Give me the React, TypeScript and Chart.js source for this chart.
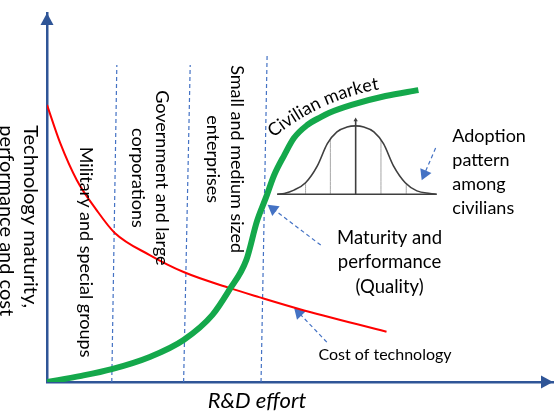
import { useEffect, useRef } from "react";
import { Chart, registerables } from "chart.js";

Chart.register(...registerables);

// both axes run 0..100 (R&D effort vs level)
const maturityX = [0, 6.5, 12.8, 20.3, 27.0, 32.7, 36.0, 39.4, 41.5, 43.3, 44.9, 46.9, 48.8, 51.4, 54.1, 55.7, 60.2, 66.9, 73.4];
const maturityY = [0, 1.6, 3.5, 6.8, 11.4, 18.2, 24.9, 33.1, 43.6, 50.1, 56.1, 61.5, 66.1, 69.6, 71.8, 72.9, 75.1, 77.5, 79.1];

const costX = [0, 2.6, 5.9, 9.8, 13.4, 20.3, 27.0, 36.0, 41.9, 49.8, 67.1];
const costY = [75.1, 64.8, 54.7, 46.6, 40.4, 34.4, 29.8, 25.5, 23.0, 19.8, 13.6];

// phase boundaries (dashed, slightly slanted)
const boundaryBottomX = [12.8, 27.0, 42.3];
const boundaryTopX = [13.8, 28.3, 43.5];
const boundaryTopY = [85.9, 85.9, 88.6];

const phaseLabels = [
  ["Military and special groups"],
  ["Government and large", "corporations"],
  ["Small and medium sized", "enterprises"],
];

// adoption bell curve inset
const bellX = [45.5, 46.9, 48.8, 51.1, 53.4, 55.4, 57.3, 59.3, 61.0, 62.6, 64.6, 66.5, 68.5, 70.8, 73.1, 75.7, 77.0];
const bellY = [50.9, 51.1, 52.0, 54.0, 58.5, 64.6, 67.8, 69.1, 69.4, 69.1, 67.8, 64.6, 58.5, 54.0, 51.8, 51.1, 50.9];
const bellBase = 50.9;
const bellTickX = [51.1, 56.0, 61.0, 66.0, 71.0];
const bellTickTop = [54.0, 65.6, 71.0, 65.6, 53.8];

// annotation arrows: tail -> head
const arrowTailX = [76.8, 54.1, 55.3];
const arrowTailY = [63.4, 37.1, 10.8];
const arrowHeadX = [74.6, 44.7, 49.8];
const arrowHeadY = [56.4, 46.9, 18.7];

const yTitleLines = ["Technology maturity,", "performance and cost"];
const xTitle = "R&D effort";
const curveLabel = "Civilian market";
const adoptionNote = ["Adoption", "pattern", "among", "civilians"];
const maturityNote = ["Maturity and", "performance", "(Quality)"];
const costNote = "Cost of technology";

const FONT = "Lato, 'Noto Sans', sans-serif";
const AXIS_BLUE = "#2F5597";
const DASH_BLUE = "#4472C4";
const GREEN = "#14A84B";
const RED = "#FF0000";

const pts = (xs: number[], ys: number[]) => xs.map((v, i) => ({ x: v, y: ys[i] }));

const drawBlock = (
  ctx: CanvasRenderingContext2D,
  lines: string[],
  cx: number,
  cy: number,
  angle: number,
  font: string,
  lh: number,
  align: CanvasTextAlign,
) => {
  ctx.save();
  ctx.translate(cx, cy);
  ctx.rotate(angle);
  ctx.font = font;
  ctx.textAlign = align;
  ctx.textBaseline = "middle";
  lines.forEach((line, i) => {
    ctx.fillText(line, 0, (i - (lines.length - 1) / 2) * lh);
  });
  ctx.restore();
};

// text bent along an arc, (mx, my) = middle of the baseline
const drawArcText = (
  ctx: CanvasRenderingContext2D,
  text: string,
  mx: number,
  my: number,
  tangent: number,
  radius: number,
  font: string,
) => {
  ctx.save();
  ctx.font = font;
  ctx.textAlign = "center";
  ctx.textBaseline = "alphabetic";
  const ox = mx - radius * Math.sin(tangent);
  const oy = my + radius * Math.cos(tangent);
  const mid = tangent - Math.PI / 2;
  const widths = [...text].map((c) => ctx.measureText(c).width);
  let s = -widths.reduce((a, b) => a + b, 0) / 2;
  [...text].forEach((c, i) => {
    const phi = mid + (s + widths[i] / 2) / radius;
    ctx.save();
    ctx.translate(ox + radius * Math.cos(phi), oy + radius * Math.sin(phi));
    ctx.rotate(phi + Math.PI / 2);
    ctx.fillText(c, 0, 0);
    ctx.restore();
    s += widths[i];
  });
  ctx.restore();
};

const labelPlugin = {
  id: "diagramLabels",
  afterDraw(chart: Chart) {
    const { ctx, chartArea } = chart;
    const sx = chart.scales.x;
    const sy = chart.scales.y;
    const px = (v: number) => sx.getPixelForValue(v);
    const py = (v: number) => sy.getPixelForValue(v);

    ctx.save();
    // axis arrowheads
    ctx.fillStyle = AXIS_BLUE;
    ctx.beginPath();
    ctx.moveTo(chartArea.left, chartArea.top);
    ctx.lineTo(chartArea.left - 6.5, chartArea.top + 12);
    ctx.lineTo(chartArea.left + 6.5, chartArea.top + 12);
    ctx.closePath();
    ctx.fill();
    ctx.beginPath();
    ctx.moveTo(chartArea.right, chartArea.bottom);
    ctx.lineTo(chartArea.right - 12, chartArea.bottom - 6.5);
    ctx.lineTo(chartArea.right - 12, chartArea.bottom + 6.5);
    ctx.closePath();
    ctx.fill();

    ctx.fillStyle = "#000";
    const half = Math.PI / 2;
    drawBlock(ctx, yTitleLines, px(-5.7), py(69.6), half, `20px ${FONT}`, 24, "left");
    drawBlock(ctx, [xTitle], px(41.5), py(-5.1), 0, `italic 22px ${FONT}`, 24, "center");

    const phaseX = [7.7, 20.3, 35.2];
    const phaseY = [35.2, 55.3, 60.4];
    phaseLabels.forEach((lines, i) => {
      drawBlock(ctx, lines, px(phaseX[i]), py(phaseY[i]), half, `18px ${FONT}`, 24, "center");
    });

    drawArcText(ctx, curveLabel, px(54.6), py(74.6), (-24.7 * Math.PI) / 180, 226, `18px ${FONT}`);
    drawBlock(ctx, adoptionNote, px(80.1), py(56.8), 0, `18px ${FONT}`, 24, "left");
    drawBlock(ctx, maturityNote, px(67.7), py(32.4), 0, `18.5px ${FONT}`, 24.5, "center");
    drawBlock(ctx, [costNote], px(66.8), py(7.3), 0, `16px ${FONT}`, 20, "center");
    ctx.restore();
  },
};

const App = () => {
  const canvasRef = useRef<HTMLCanvasElement>(null);

  useEffect(() => {
    if (!canvasRef.current) return;

    const curve = (data: { x: number; y: number }[], color: string, width: number) => ({
      data,
      showLine: true,
      borderColor: color,
      borderWidth: width,
      pointRadius: 0,
      cubicInterpolationMode: "monotone" as const,
      borderCapStyle: "butt" as const,
    });

    const arrowRotation = (i: number) => (chart: Chart) => {
      const dx = chart.scales.x.getPixelForValue(arrowHeadX[i]) - chart.scales.x.getPixelForValue(arrowTailX[i]);
      const dy = chart.scales.y.getPixelForValue(arrowHeadY[i]) - chart.scales.y.getPixelForValue(arrowTailY[i]);
      return (Math.atan2(dx, -dy) * 180) / Math.PI;
    };

    const chart = new Chart(canvasRef.current, {
      type: "scatter",
      data: {
        datasets: [
          curve(pts(maturityX, maturityY), GREEN, 6),
          curve(pts(costX, costY), RED, 2),
          curve(pts(bellX, bellY), "#3F3F3F", 1.6),
          curve(pts([bellX[0], bellX[bellX.length - 1]], [bellBase, bellBase]), "#3F3F3F", 1.6),
          ...bellTickX.map((bx, i) => ({
            ...curve(pts([bx, bx], [bellBase, bellTickTop[i]]), i === 2 ? "#3F3F3F" : "#A6A6A6", i === 2 ? 1.6 : 1),
            pointRadius: [0, i === 2 ? 2.5 : 0],
            pointStyle: "triangle" as const,
            pointBackgroundColor: "#3F3F3F",
            pointBorderWidth: 0,
          })),
          ...boundaryBottomX.map((bx, i) => ({
            ...curve(pts([bx, boundaryTopX[i]], [0, boundaryTopY[i]]), DASH_BLUE, 1.2),
            borderDash: [4, 3],
          })),
          ...arrowTailX.map((tx, i) => ({
            ...curve(pts([tx, arrowHeadX[i]], [arrowTailY[i], arrowHeadY[i]]), DASH_BLUE, 1.2),
            borderDash: [4, 3],
            pointRadius: [0, 7],
            pointStyle: "triangle" as const,
            pointBackgroundColor: DASH_BLUE,
            pointBorderWidth: 0,
            pointRotation: (ctx: any) => arrowRotation(i)(ctx.chart),
          })),
        ],
      },
      options: {
        responsive: false,
        animation: false,
        events: [],
        layout: { padding: { left: 47, right: 5, top: 13, bottom: 38 } },
        scales: {
          x: {
            type: "linear",
            min: 0,
            max: 100,
            grid: { display: false, drawTicks: false },
            ticks: { display: false },
            border: { color: AXIS_BLUE, width: 2.5 },
          },
          y: {
            type: "linear",
            min: 0,
            max: 100,
            grid: { display: false, drawTicks: false },
            ticks: { display: false },
            border: { color: AXIS_BLUE, width: 2.5 },
          },
        },
        plugins: {
          legend: { display: false },
          tooltip: { enabled: false },
        },
      },
      plugins: [labelPlugin],
    });

    return () => chart.destroy();
  }, []);

  return (
    <div style={{ position: "absolute", left: 0, top: 0, width: 560, height: 420, background: "#fff" }}>
      <canvas ref={canvasRef} width={560} height={420}></canvas>
    </div>
  );
};

export default App;
